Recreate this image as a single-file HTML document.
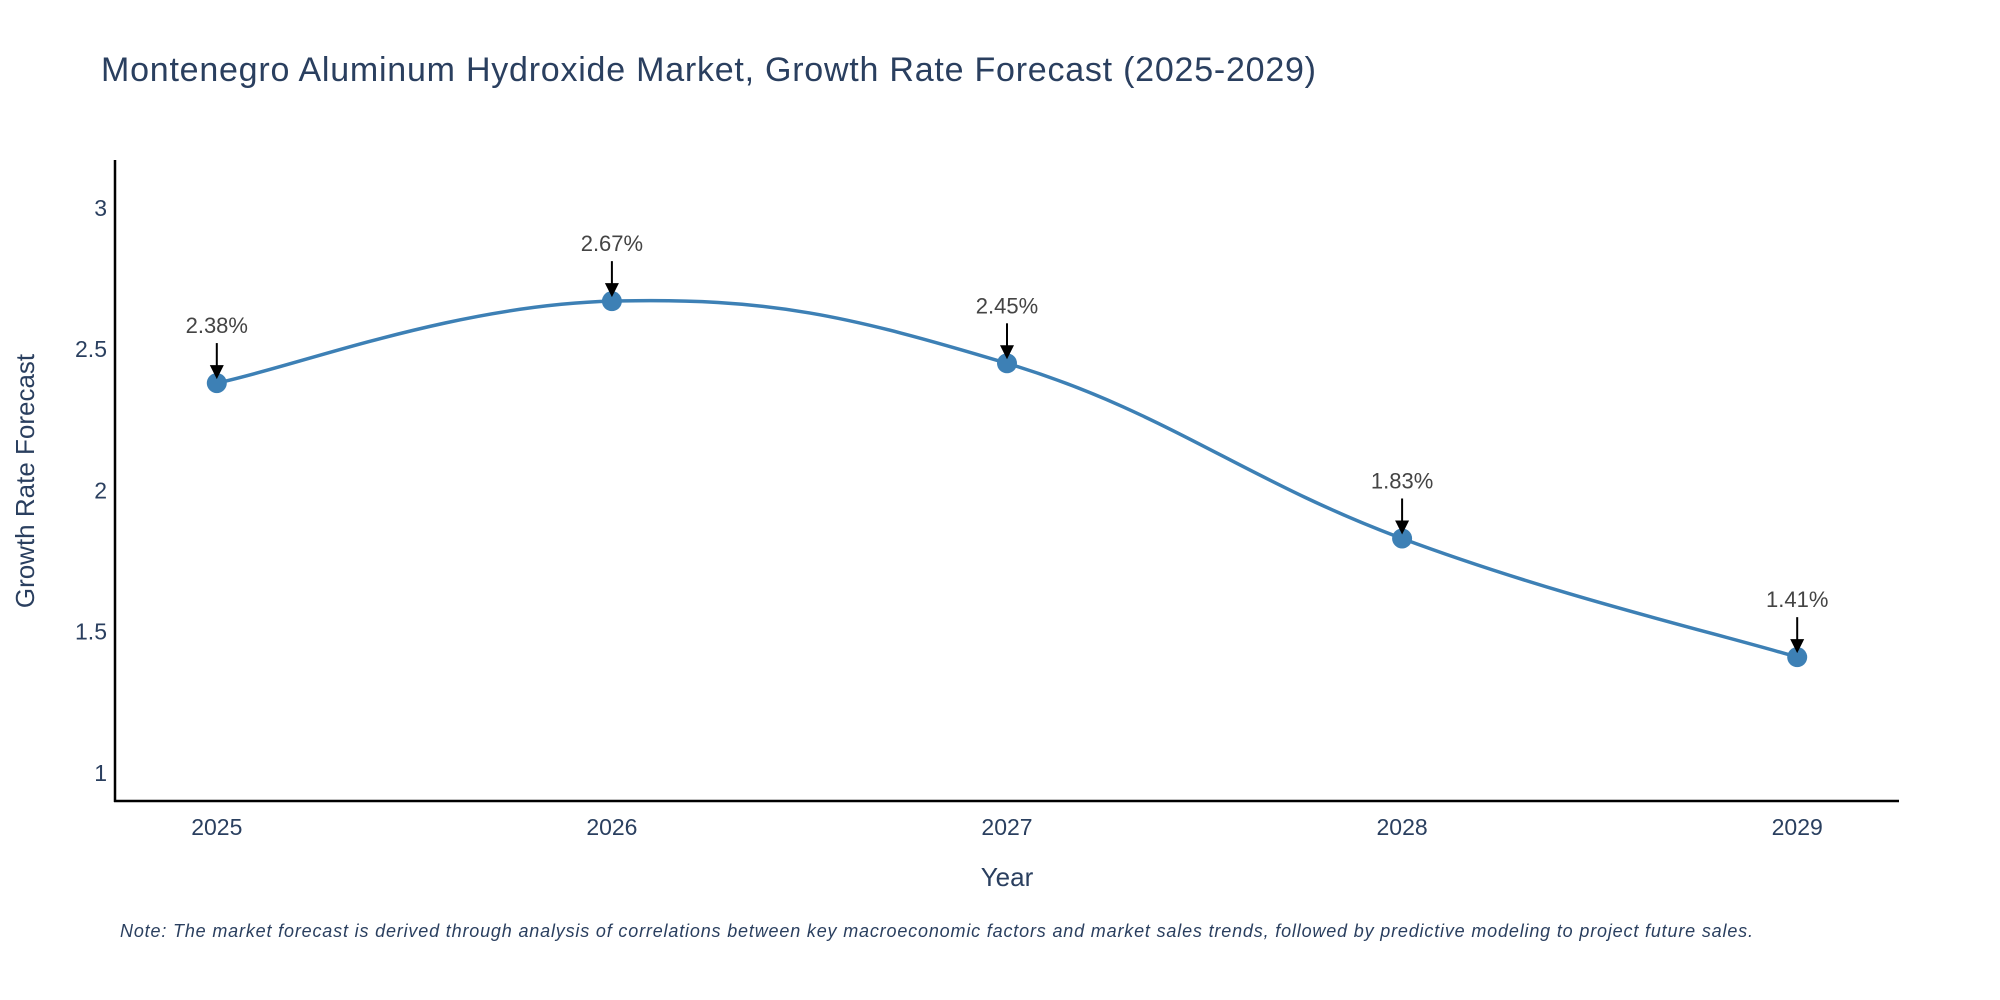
<!DOCTYPE html>
<html><head><meta charset="utf-8"><style>
html,body{margin:0;padding:0;background:#fff;}
svg{display:block;font-family:"Liberation Sans",sans-serif;}
</style></head><body>
<svg id="chart" width="2000" height="1000" viewBox="0 0 2000 1000">
<text x="101" y="81" font-size="34" fill="#2a3f5f" textLength="1215">Montenegro Aluminum Hydroxide Market, Growth Rate Forecast (2025-2029)</text>
<g id="yticks"></g>
<g id="xticks"></g>
<line x1="115" y1="160" x2="115" y2="802" stroke="#000" stroke-width="2.5"/>
<line x1="114" y1="801" x2="1899" y2="801" stroke="#000" stroke-width="2.5"/>
<path id="line" fill="none" stroke="#3d80b5" stroke-width="3.5"/>
<g id="marks"></g>
<text x="1007" y="886" font-size="26" fill="#2a3f5f" text-anchor="middle">Year</text>
<text x="34" y="481" font-size="26" fill="#2a3f5f" text-anchor="middle" transform="rotate(-90 34 481)">Growth Rate Forecast</text>
<text x="120" y="937" font-size="18" font-style="italic" fill="#2a3f5f" textLength="1633">Note: The market forecast is derived through analysis of correlations between key macroeconomic factors and market sales trends, followed by predictive modeling to project future sales.</text>
</svg>
<script>
const years = ["2025","2026","2027","2028","2029"];
const values = [2.38, 2.67, 2.45, 1.83, 1.41];
const labels = ["2.38%","2.67%","2.45%","1.83%","1.41%"];
const yTicks = [1, 1.5, 2, 2.5, 3];
const yTickLabels = ["1","1.5","2","2.5","3"];

const NS = "http://www.w3.org/2000/svg";
function xPos(i){ return 216.8 + i * (1797.2 - 216.8) / (years.length - 1); }
function yPos(v){ return 773 - (v - 1) * (773 - 207.9) / 2; }
function mk(tag, attrs, parent){ const e = document.createElementNS(NS, tag); for (const k in attrs) e.setAttribute(k, attrs[k]); parent.appendChild(e); return e; }

const yg = document.getElementById('yticks');
yTicks.forEach((v, i) => {
  const t = mk('text', {x: 107, y: yPos(v) + 8, 'font-size': 23, fill: '#2a3f5f', 'text-anchor': 'end'}, yg);
  
  
  t.textContent = yTickLabels[i];
});
const xg = document.getElementById('xticks');
years.forEach((y, i) => {
  const t = mk('text', {x: xPos(i), y: 835, 'font-size': 23, fill: '#2a3f5f', 'text-anchor': 'middle'}, xg);
  
  
  t.textContent = y;
});

const pts = values.map((v, i) => [xPos(i), yPos(v)]);
let d = `M${pts[0][0]},${pts[0][1]}`;
const s = 0.2;
for (let i = 0; i < pts.length - 1; i++) {
  const p0 = pts[Math.max(i - 1, 0)], p1 = pts[i], p2 = pts[i + 1], p3 = pts[Math.min(i + 2, pts.length - 1)];
  const c1 = [p1[0] + (p2[0] - p0[0]) * s, p1[1] + (p2[1] - p0[1]) * s];
  const c2 = [p2[0] - (p3[0] - p1[0]) * s, p2[1] - (p3[1] - p1[1]) * s];
  d += ` C${c1[0]},${c1[1]} ${c2[0]},${c2[1]} ${p2[0]},${p2[1]}`;
}
document.getElementById('line').setAttribute('d', d);

const mg = document.getElementById('marks');
pts.forEach((p, i) => {
  const c = mk('circle', {cx: p[0], cy: p[1], r: 10, fill: '#3d80b5'}, mg);
  
  
  const ln = mk('line', {x1: p[0], y1: p[1] - 40, x2: p[0], y2: p[1] - 14, stroke: '#000', 'stroke-width': 2}, mg);
  
  
  const hd = mk('polygon', {points: `${p[0]-7},${p[1]-18} ${p[0]+7},${p[1]-18} ${p[0]},${p[1]-4}`, fill: '#000'}, mg);
  
  
  const t = mk('text', {x: p[0], y: p[1] - 50, 'font-size': 22, fill: '#444', 'text-anchor': 'middle'}, mg);
  
  
  t.textContent = labels[i];
});
</script>
</body></html>
